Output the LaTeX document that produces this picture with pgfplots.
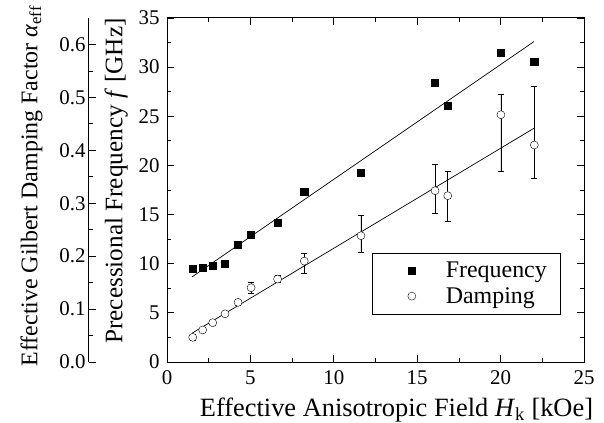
\documentclass[border=0pt]{standalone}
\usepackage{fontspec}
\setmainfont{Liberation Serif}
\usepackage{pgfplots}
\pgfplotsset{compat=1.18}

\pgfplotstableread{
H     a       ep      em
1.54  0.0466  0.005   0.005
2.14  0.0605  0.005   0.005
2.74  0.0743  0.005   0.005
3.48  0.0910  0.005   0.005
4.26  0.1127  0.006   0.006
5.04  0.1404  0.010   0.010
6.63  0.1567  0.007   0.007
8.23  0.1907  0.0147  0.0236
11.63 0.2386  0.0377  0.0314
16.07 0.3237  0.0496  0.0435
16.83 0.3142  0.0461  0.0479
20.02 0.4672  0.0384  0.1064
22.02 0.4100  0.1109  0.0630
}\damping

\pgfplotsset{
  common/.style={
    scale only axis, width=417bp, height=344bp,
    tick align=inside,
    major tick length=7bp, minor tick length=4bp,
    tick style={black, line width=0.8pt},
    axis line style={line width=1pt},
    ticklabel style={font=\fontsize{21}{21}\selectfont},
    /pgf/number format/assume math mode=true,
  },
}

\begin{document}
\begin{tikzpicture}
\begin{axis}[common, name=main,
  xmin=0, xmax=25, ymin=0, ymax=35,
  xtick={0,5,...,25}, ytick={0,5,...,35},
  minor x tick num=1, minor y tick num=1,
  xticklabel style={yshift=-5bp},
  yticklabel style={xshift=-4bp},
  xlabel={Effective Anisotropic Field \textit{H}\textsubscript{k} [kOe]},
  ylabel={Precessional Frequency \textit{f} [GHz]},
  xlabel style={font=\fontsize{26.5}{26.5}\selectfont, xshift=21bp, yshift=-6bp},
  ylabel style={font=\fontsize{25.3}{25.3}\selectfont, xshift=9bp, yshift=4bp},
  legend style={name=leg, at={(0.9424,0.1395)}, anchor=south east, draw=none,
    fill=none, font=\fontsize{24}{24}\selectfont,
    cells={anchor=west}, row sep=6bp, inner xsep=13bp, inner ysep=8bp,
    nodes={inner xsep=0bp, inner ysep=1bp}},
  legend image code/.code={\path[draw=none] (0bp,0bp) -- (34bp,0bp);
    \draw[#1] plot coordinates {(0bp,0bp)};},
]
\addplot[only marks, mark=square*, mark size=3.6bp, black] coordinates {
  (1.54,9.46) (2.14,9.60) (2.74,9.77) (3.48,10.04) (4.26,11.90)
  (5.04,12.95) (6.63,14.20) (8.23,17.30) (11.63,19.26) (16.07,28.45)
  (16.83,26.04) (20.02,31.50) (22.02,30.59)
};
\addlegendentry{Frequency}
\addlegendimage{only marks, mark=*, mark size=4bp, draw=black, fill=white}
\addlegendentry{Damping}
\addplot[black, line width=0.7pt, forget plot] coordinates {(1.5,8.66) (22.0,32.6)};
\end{axis}
\begin{axis}[common,
  xmin=0, xmax=25, ymin=0, ymax=0.65,
  axis x line=none, axis y line*=left, axis y line shift=78bp,
  ytick={0,0.1,...,0.6}, minor y tick num=1,
  yticklabel style={/pgf/number format/.cd, fixed, fixed zerofill, precision=1},
  ylabel={Effective Gilbert Damping Factor \textit{α}\textsubscript{eff}},
  ylabel style={font=\fontsize{24}{24}\selectfont, xshift=4bp, yshift=10bp},
]
\addplot[only marks, mark=*, mark size=4bp, draw=black, fill=white,
  error bars/.cd, y dir=both, y explicit,
  error bar style={black, line width=0.8pt},
  error mark options={rotate=90, mark size=3bp, line width=0.8pt}]
  table[x=H, y=a, y error plus=ep, y error minus=em] {\damping};
\addplot[black, line width=0.7pt] coordinates {(1.48,0.054) (22.02,0.442)};
\end{axis}
\draw[line width=0.8pt] ([xshift=-22bp]leg.south west) rectangle (leg.north east);
\pgfresetboundingbox
\path ([shift={(-167bp,-61bp)}]main.south west) rectangle ++(604bp,423bp);
\end{tikzpicture}
\end{document}
